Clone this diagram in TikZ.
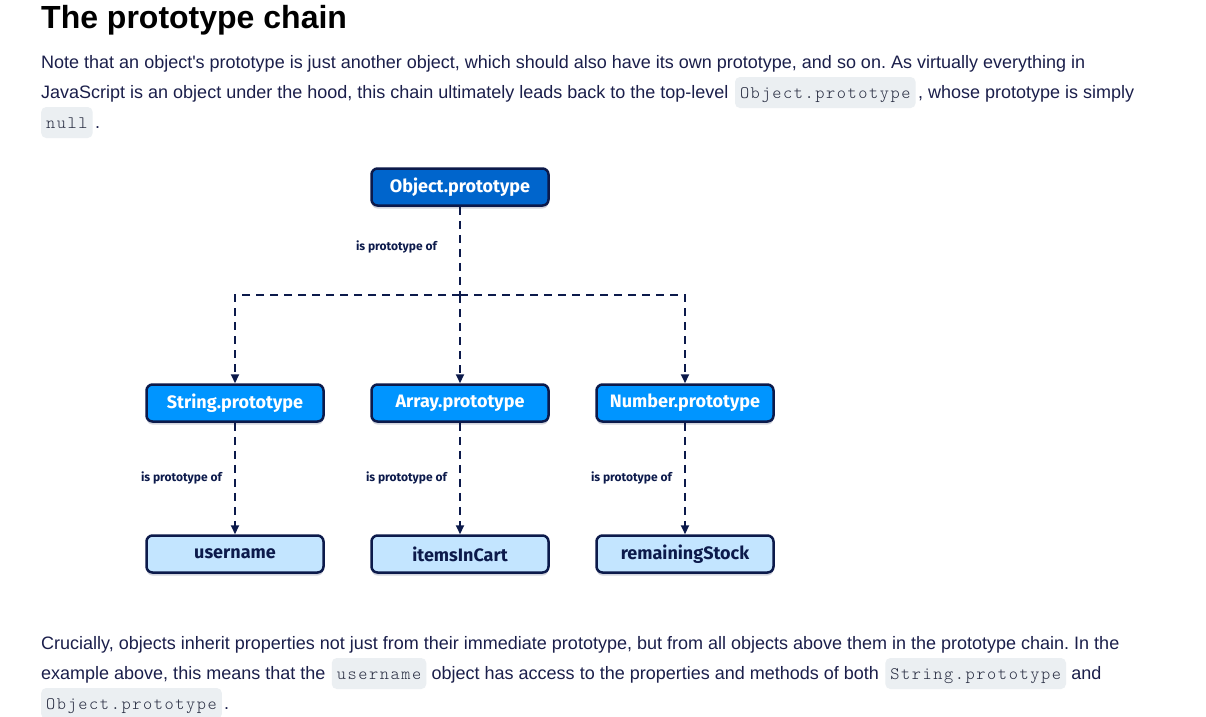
\documentclass[tikz,border=0pt]{standalone}
\usepackage{fontspec}
\setmainfont{Liberation Sans}
\newfontfamily\diagfont{Fira Sans}
\newfontfamily\codefont{lmmonolt10-regular.otf}[LetterSpace=9]
\usetikzlibrary{arrows.meta,positioning,shadows}
\definecolor{ink}{HTML}{1B1F4B}
\definecolor{navy}{HTML}{0C1A4B}
\definecolor{objblue}{HTML}{0065CC}
\definecolor{protoblue}{HTML}{0095FF}
\definecolor{leafblue}{HTML}{C3E5FF}
\definecolor{codebg}{HTML}{EBEFF2}
\definecolor{codeink}{HTML}{262B40}
\tikzset{
  para/.style={anchor=base west,inner sep=0pt,text=ink,
               font=\fontsize{18}{21}\selectfont\frenchspacing},
  codechip/.style={fill=codebg,rounded corners=5pt,inner xsep=5pt,inner ysep=0pt,
                   text height=21pt,text depth=10pt,text=codeink,
                   font=\codefont\fontsize{17.5}{20}\selectfont},
  protobox/.style={draw=navy,line width=2.5pt,rounded corners=6pt,
                   minimum width=177pt,minimum height=37pt,
                   font=\diagfont\bfseries\fontsize{18}{20}\selectfont,
                   drop shadow={shadow xshift=0pt,shadow yshift=-3pt,
                                fill=navy,opacity=0.18}},
  link/.style={navy,line width=2pt,dash pattern=on 8pt off 6pt},
  linkarrow/.style={link,-{Triangle[length=9pt,width=8pt]}},
  linklabel/.style={anchor=east,inner sep=0pt,text=navy,
                    font=\diagfont\bfseries\fontsize{12}{14}\selectfont},
}
\begin{document}
\begin{tikzpicture}[x=1pt,y=-1pt]
  \useasboundingbox[fill=white] (0,0) rectangle (1206,716);

  % Heading and first paragraph
  \node[anchor=base west,inner sep=0pt,font=\bfseries\fontsize{32}{36}\selectfont]
    (title) at (41,28) {The prototype chain};
  \node[para] (p1a) at (41,68)
    {Note that an object\textquotesingle s prototype is just another object, which should also have its own prototype, and so on. As virtually everything in};
  \node[para] (p1b) at (41,98)
    {JavaScript is an object under the hood, this chain ultimately leads back to the top-level};
  \node[codechip,base right=6pt of p1b] (c1) {Object.prototype};
  \node[para,base right=2pt of c1] (p1c) {, whose prototype is simply};
  \node[codechip,anchor=base west] (c2) at (41,128) {null};
  \node[para,base right=2pt of c2] (p1d) {.};

  % Diagram boxes
  \node[protobox,fill=objblue,text=white] (obj) at (460,187) {Object.prototype};
  \node[protobox,fill=protoblue,text=white] (str) at (235,403) {String.prototype};
  \node[protobox,fill=protoblue,text=white] (arr) at (460,403) {Array.prototype};
  \node[protobox,fill=protoblue,text=white] (num) at (685,403) {Number.prototype};
  \node[protobox,fill=leafblue,text=navy] (usr) at (235,554) {username};
  \node[protobox,fill=leafblue,text=navy] (cart) at (460,554) {itemsInCart};
  \node[protobox,fill=leafblue,text=navy] (stock) at (685,554) {remainingStock};

  % Connectors
  \coordinate (fork) at (460,295);
  \draw[link] (obj.south) -- (fork);
  \draw[linkarrow] (fork) -| (str.north);
  \draw[linkarrow] (fork) -- (arr.north);
  \draw[linkarrow] (fork) -| (num.north);
  \draw[linkarrow] (str.south) -- (usr.north);
  \draw[linkarrow] (arr.south) -- (cart.north);
  \draw[linkarrow] (num.south) -- (stock.north);

  \node[linklabel] (lbl0) at (437,247) {is prototype of};
  \node[linklabel] (lbl1) at (222,478) {is prototype of};
  \node[linklabel] (lbl2) at (447,478) {is prototype of};
  \node[linklabel] (lbl3) at (672,478) {is prototype of};

  % Second paragraph
  \node[para] (p2a) at (41,649)
    {Crucially, objects inherit properties not just from their immediate prototype, but from all objects above them in the prototype chain. In the};
  \node[para] (p2b) at (41,679) {example above, this means that the};
  \node[codechip,base right=6pt of p2b] (c3) {username};
  \node[para,base right=5pt of c3] (p2c)
    {object has access to the properties and methods of both};
  \node[codechip,base right=6pt of p2c] (c4) {String.prototype};
  \node[para,base right=5pt of c4] (p2d) {and};
  \node[codechip,anchor=base west] (c5) at (41,709) {Object.prototype};
  \node[para,base right=2pt of c5] (p2e) {.};
\end{tikzpicture}
\end{document}
